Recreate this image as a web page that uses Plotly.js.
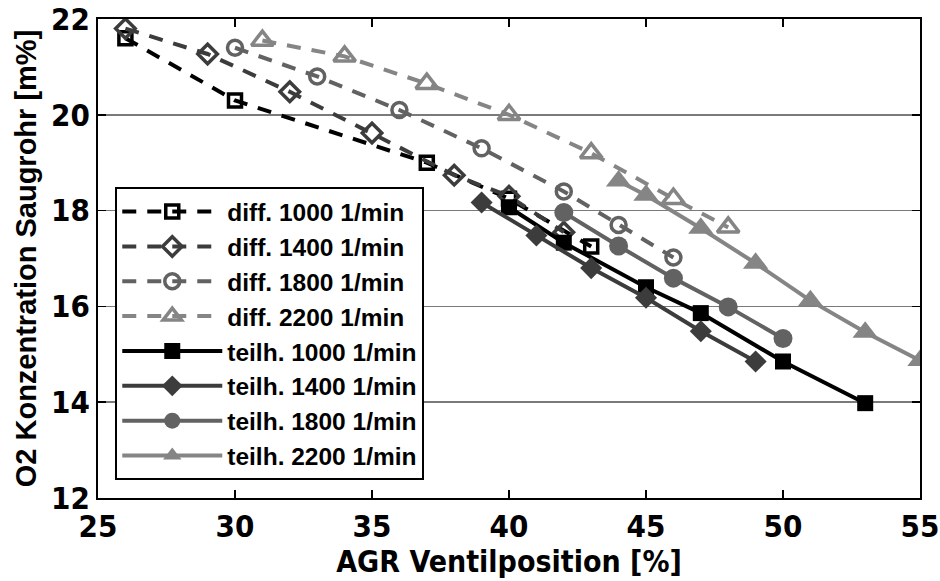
<!DOCTYPE html>
<html>
<head>
<meta charset="utf-8">
<script src="https://cdn.plot.ly/plotly-3.0.1.min.js"></script>
<style>html,body{margin:0;padding:0;background:#fff;}#chart{width:940px;height:581px;}</style>
</head>
<body>
<div id="chart"></div>
<script>
// ---- data ----
const diff1000_x = [26, 30, 37, 40, 43];
const diff1000_y = [21.6, 20.3, 19.0, 18.25, 17.25];
const diff1400_x = [26, 29, 32, 35, 38, 40, 42];
const diff1400_y = [21.8, 21.27, 20.48, 19.62, 18.74, 18.3, 17.55];
const diff1800_x = [30, 33, 36, 39, 42, 44, 46];
const diff1800_y = [21.4, 20.8, 20.1, 19.3, 18.4, 17.7, 17.02];
const diff2200_x = [31, 34, 37, 40, 43, 46, 48];
const diff2200_y = [21.55, 21.22, 20.65, 20.0, 19.2, 18.25, 17.65];
const teil1000_x = [40, 42, 45, 47, 50, 53];
const teil1000_y = [18.07, 17.33, 16.4, 15.86, 14.85, 13.98];
const teil1400_x = [39, 41, 43, 45, 47, 49];
const teil1400_y = [18.17, 17.48, 16.8, 16.18, 15.48, 14.85];
const teil1800_x = [42, 44, 46, 48, 50];
const teil1800_y = [17.96, 17.26, 16.59, 15.99, 15.33];
const teil2200_x = [44, 45, 47, 49, 51, 53, 55];
const teil2200_y = [18.62, 18.32, 17.63, 16.9, 16.12, 15.46, 14.87];

const names = ['diff. 1000 1/min','diff. 1400 1/min','diff. 1800 1/min','diff. 2200 1/min',
               'teilh. 1000 1/min','teilh. 1400 1/min','teilh. 1800 1/min','teilh. 2200 1/min'];
const xTickVals = [25, 30, 35, 40, 45, 50, 55];
const yTickVals = [12, 14, 16, 18, 20, 22];

const colors = ['#000000', '#3c3c3c', '#626262', '#858585'];

function diffTrace(x, y, name, color, symbol, size) {
  return {
    x: x, y: y, name: name, type: 'scatter', mode: 'lines+markers',
    line: {color: color, width: 4, dash: '14px,11px'},
    marker: {symbol: symbol, size: size, color: color, line: {color: color, width: 3.5}}
  };
}
function teilTrace(x, y, name, color, symbol, size) {
  return {
    x: x, y: y, name: name, type: 'scatter', mode: 'lines+markers',
    line: {color: color, width: 4},
    marker: {symbol: symbol, size: size, color: color, line: {width: 0}}
  };
}

const data = [
  diffTrace(diff1000_x, diff1000_y, names[0], colors[0], 'square-open', 13),
  diffTrace(diff1400_x, diff1400_y, names[1], colors[1], 'diamond-open', 15),
  diffTrace(diff1800_x, diff1800_y, names[2], colors[2], 'circle-open', 15),
  diffTrace(diff2200_x, diff2200_y, names[3], colors[3], 'triangle-up-open', 19),
  teilTrace(teil1000_x, teil1000_y, names[4], colors[0], 'square', 16),
  teilTrace(teil1400_x, teil1400_y, names[5], colors[1], 'diamond', 17),
  teilTrace(teil1800_x, teil1800_y, names[6], colors[2], 'circle', 19),
  teilTrace(teil2200_x, teil2200_y, names[7], colors[3], 'triangle-up', 22)
];

const narrow = 'Liberation Sans Narrow, DejaVu Sans Condensed, Liberation Sans, Arial, sans-serif';
const sans = 'Liberation Sans, Arial, sans-serif';

const layout = {
  width: 940, height: 581,
  margin: {l: 98, r: 20, t: 19, b: 83},
  paper_bgcolor: '#ffffff', plot_bgcolor: '#ffffff',
  showlegend: true,
  xaxis: {
    range: [25, 55], tickvals: xTickVals, ticktext: xTickVals.map(String),
    showgrid: false, zeroline: false,
    showline: true, linecolor: '#000', linewidth: 2, mirror: 'ticks',
    ticks: 'inside', ticklen: 8, tickwidth: 1.5, tickcolor: '#000',
    tickfont: {family: narrow, size: 31, color: '#000', weight: 'bold'},
    title: {text: 'AGR Ventilposition [%]', standoff: 4,
            font: {family: narrow, size: 30, color: '#000', weight: 'bold'}}
  },
  yaxis: {
    range: [12, 22], tickvals: yTickVals, ticktext: yTickVals.map(String),
    showgrid: true, gridcolor: '#7a7a7a', gridwidth: 1.5, zeroline: false,
    showline: true, linecolor: '#000', linewidth: 2, mirror: 'ticks',
    ticks: 'inside', ticklen: 8, tickwidth: 1.5, tickcolor: '#000',
    tickfont: {family: narrow, size: 31, color: '#000', weight: 'bold'},
    title: {text: 'O2 Konzentration Saugrohr [m%]', standoff: 6,
            font: {family: sans, size: 29, color: '#000', weight: 'bold'}}
  },
  legend: {
    x: 0.021, y: 0.649, xanchor: 'left', yanchor: 'top',
    bgcolor: '#ffffff', bordercolor: '#000', borderwidth: 2,
    font: {family: sans, size: 24.5, color: '#000', weight: 'bold'},
    itemwidth: 100, tracegroupgap: 0
  }
};

Plotly.newPlot('chart', data, layout, {displayModeBar: false, staticPlot: true});
</script>
</body>
</html>
